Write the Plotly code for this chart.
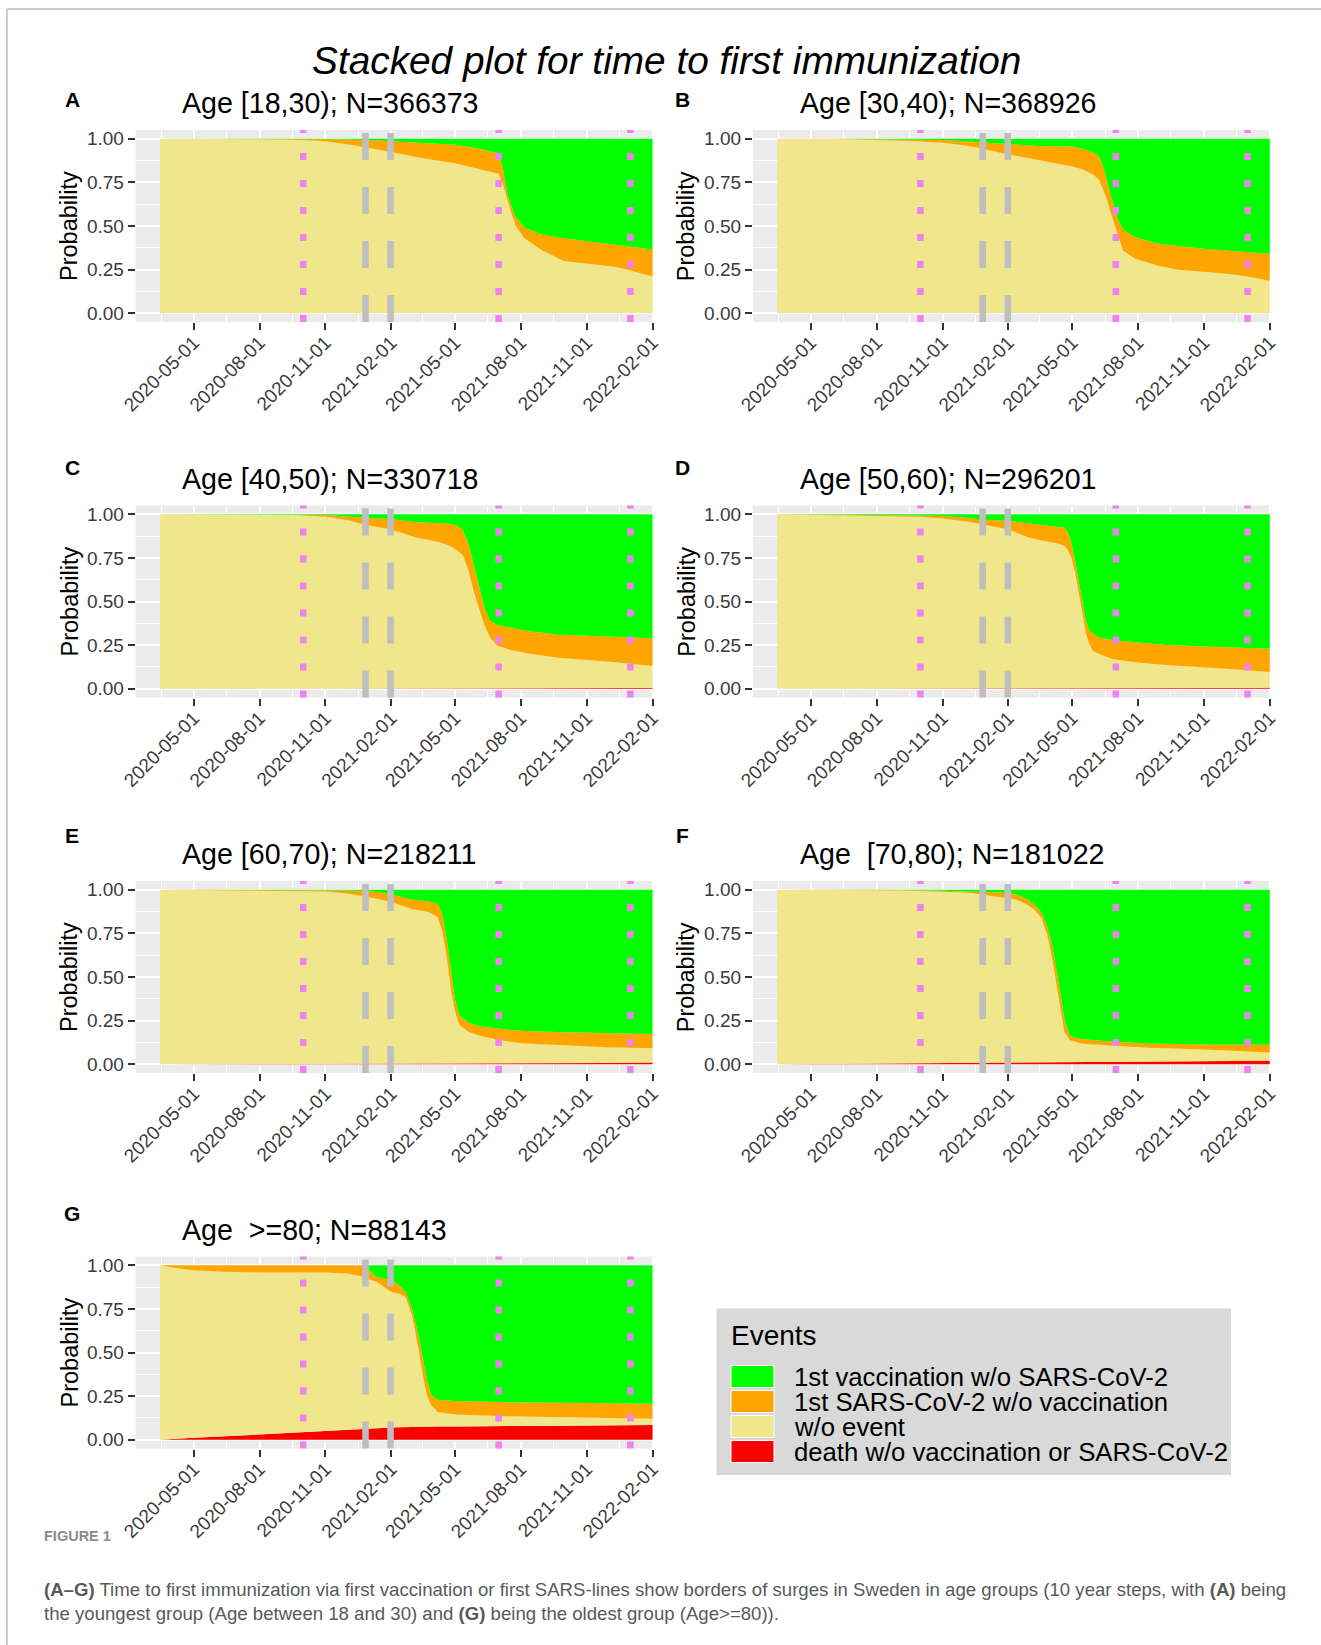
import pandas as pd
import plotly.graph_objects as go

W, H = 1321, 1645
FONT = "Liberation Sans, Arial, sans-serif"

TITLE = "Stacked plot for time to first immunization"
PANEL_LETTERS = ["A", "B", "C", "D", "E", "F", "G"]
PANEL_TITLES = [
    "Age [18,30); N=366373",
    "Age [30,40); N=368926",
    "Age [40,50); N=330718",
    "Age [50,60); N=296201",
    "Age [60,70); N=218211",
    "Age\u00a0 [70,80); N=181022",
    "Age\u00a0 >=80; N=88143",
]
EVENTS = [
    "1st vaccination w/o SARS-CoV-2",
    "1st SARS-CoV-2 w/o vaccination",
    "w/o event",
    "death w/o vaccination or SARS-CoV-2",
]
EVENT_COLORS = ["#00FF00", "#FFA500", "#F0E68C", "#FF0000"]
BREAKS = ["2020-02-01", "2020-05-01", "2020-08-01", "2020-11-01", "2021-02-01",
          "2021-05-01", "2021-08-01", "2021-11-01", "2022-02-01"]
Y_TICKS = [0, 0.25, 0.5, 0.75, 1.0]
Y_MINOR = [0.125, 0.375, 0.625, 0.875]
SURGE_BORDERS = ["2020-10-01", "2021-07-01", "2022-01-01"]
VACC_MARKERS = ["2020-12-27", "2021-01-31"]

# ---- panel A: Age [18,30) (cumulative probabilities: top of each stacked band) ----
A_DATES = ["2020-03-15", "2020-06-01", "2020-09-27", "2020-11-01", "2020-12-01", "2020-12-27",
           "2021-01-15", "2021-02-01", "2021-03-15", "2021-05-01", "2021-06-01", "2021-07-01",
           "2021-07-07", "2021-07-13", "2021-07-19", "2021-07-25", "2021-08-06", "2021-08-31",
           "2021-09-30", "2021-10-30", "2021-12-12", "2022-01-01", "2022-02-01"]
A_DEATH = [0, 0, 0, 0, 0, 0, 0, 0, 0, 0, 0, 0, 0, 0, 0, 0, 0, 0, 0, 0, 0, 0, 0]
A_NOEVENT = [1.0, 0.999, 0.993, 0.985, 0.968, 0.952, 0.937, 0.924, 0.89, 0.86, 0.83, 0.80,
             0.74, 0.65, 0.57, 0.50, 0.43, 0.36, 0.30, 0.285, 0.265, 0.245, 0.21]
A_SARS = [1.0, 1.0, 0.999, 0.997, 0.995, 0.993, 0.99, 0.985, 0.975, 0.965, 0.945, 0.915,
          0.83, 0.69, 0.61, 0.55, 0.49, 0.45, 0.43, 0.415, 0.39, 0.38, 0.365]

# ---- panel B: Age [30,40) ----
B_DATES = ["2020-03-15", "2020-06-01", "2020-09-20", "2020-11-01", "2020-12-01", "2020-12-27",
           "2021-02-01", "2021-03-15", "2021-05-01", "2021-05-15", "2021-05-31", "2021-06-08",
           "2021-06-14", "2021-06-18", "2021-06-23", "2021-06-27", "2021-07-02", "2021-07-06",
           "2021-07-11", "2021-07-28", "2021-08-28", "2021-09-26", "2021-11-01", "2021-12-04",
           "2022-01-01", "2022-02-01"]
B_DEATH = [0, 0, 0, 0, 0, 0, 0, 0, 0, 0, 0, 0, 0, 0, 0, 0, 0, 0, 0, 0, 0, 0, 0, 0, 0, 0]
B_NOEVENT = [1.0, 0.998, 0.987, 0.977, 0.962, 0.943, 0.91, 0.876, 0.841, 0.825, 0.794, 0.76,
             0.704, 0.66, 0.589, 0.54, 0.474, 0.42, 0.36, 0.312, 0.273, 0.249, 0.235, 0.226,
             0.21, 0.187]
B_SARS = [1.0, 1.0, 0.994, 0.992, 0.986, 0.98, 0.97, 0.958, 0.956, 0.943, 0.92, 0.895,
          0.83, 0.76, 0.69, 0.63, 0.56, 0.52, 0.48, 0.435, 0.40, 0.385, 0.369, 0.36,
          0.35, 0.34]

# ---- panel C: Age [40,50) ----
C_DATES = ["2020-03-15", "2020-06-01", "2020-09-17", "2020-11-01", "2020-12-06", "2020-12-26",
           "2021-01-15", "2021-02-01", "2021-03-06", "2021-04-10", "2021-04-27", "2021-05-05",
           "2021-05-12", "2021-05-20", "2021-05-27", "2021-06-04", "2021-06-11", "2021-06-19",
           "2021-06-29", "2021-07-19", "2021-08-13", "2021-09-22", "2021-11-03", "2021-12-16",
           "2022-02-01"]
C_DEATH = [0, 0, 0, 0, 0, 0, 0, 0, 0.001, 0.004, 0.004, 0.004, 0.004, 0.004, 0.004, 0.004,
           0.004, 0.004, 0.004, 0.004, 0.004, 0.004, 0.004, 0.004, 0.005]
C_NOEVENT = [1.0, 0.999, 0.995, 0.987, 0.963, 0.94, 0.925, 0.912, 0.868, 0.84, 0.812, 0.79,
             0.765, 0.678, 0.56, 0.457, 0.366, 0.294, 0.246, 0.221, 0.2, 0.178, 0.165, 0.15,
             0.13]
C_SARS = [1.0, 1.0, 0.999, 0.996, 0.985, 0.978, 0.975, 0.972, 0.955, 0.948, 0.944, 0.931,
          0.91, 0.83, 0.716, 0.58, 0.466, 0.39, 0.365, 0.35, 0.33, 0.309, 0.303, 0.298, 0.29]

# ---- panel D: Age [50,60) ----
D_DATES = ["2020-03-15", "2020-08-01", "2020-09-30", "2020-11-01", "2020-12-09", "2020-12-26",
           "2021-01-13", "2021-02-01", "2021-02-27", "2021-03-19", "2021-04-08", "2021-04-20",
           "2021-04-25", "2021-04-30", "2021-05-05", "2021-05-10", "2021-05-15", "2021-05-20",
           "2021-05-25", "2021-05-30", "2021-06-07", "2021-06-27", "2021-07-31", "2021-09-09",
           "2021-11-01", "2021-12-18", "2022-02-01"]
D_DEATH = [0, 0.002, 0.003, 0.003, 0.004, 0.004, 0.004, 0.004, 0.005, 0.005, 0.005, 0.005,
           0.005, 0.005, 0.005, 0.005, 0.005, 0.005, 0.005, 0.005, 0.005, 0.005, 0.005, 0.005,
           0.005, 0.005, 0.006]
D_NOEVENT = [1.0, 0.99, 0.985, 0.975, 0.956, 0.942, 0.928, 0.912, 0.87, 0.85, 0.835, 0.82,
             0.795, 0.75, 0.668, 0.56, 0.44, 0.32, 0.255, 0.217, 0.2, 0.169, 0.15, 0.136,
             0.125, 0.111, 0.096]
D_SARS = [1.0, 0.997, 0.993, 0.99, 0.979, 0.969, 0.965, 0.962, 0.95, 0.94, 0.931, 0.923,
          0.898, 0.831, 0.735, 0.62, 0.486, 0.39, 0.332, 0.317, 0.294, 0.278, 0.265, 0.251,
          0.242, 0.236, 0.23]

# ---- panel E: Age [60,70) ----
E_DATES = ["2020-03-15", "2020-08-02", "2020-11-01", "2020-12-01", "2020-12-27", "2021-01-12",
           "2021-02-01", "2021-03-02", "2021-03-26", "2021-04-07", "2021-04-13", "2021-04-19",
           "2021-04-25", "2021-05-01", "2021-05-07", "2021-05-20", "2021-06-07", "2021-06-30",
           "2021-07-31", "2021-09-30", "2021-11-29", "2022-02-01"]
E_DEATH = [0, 0.001, 0.003, 0.003, 0.004, 0.005, 0.006, 0.006, 0.006, 0.006, 0.006, 0.006,
           0.006, 0.007, 0.007, 0.007, 0.007, 0.007, 0.007, 0.008, 0.008, 0.01]
E_NOEVENT = [1.0, 0.996, 0.99, 0.98, 0.962, 0.948, 0.929, 0.89, 0.871, 0.842, 0.765, 0.63,
             0.438, 0.304, 0.227, 0.185, 0.16, 0.14, 0.121, 0.108, 0.098, 0.092]
E_SARS = [1.0, 0.999, 0.998, 0.996, 0.992, 0.987, 0.973, 0.944, 0.933, 0.919, 0.862, 0.727,
          0.554, 0.37, 0.28, 0.236, 0.215, 0.204, 0.192, 0.183, 0.177, 0.173]

# ---- panel F: Age [70,80) ----
F_DATES = ["2020-03-15", "2020-06-01", "2020-08-31", "2020-11-01", "2020-12-09", "2020-12-26",
           "2021-02-01", "2021-02-12", "2021-02-27", "2021-03-09", "2021-03-19", "2021-03-27",
           "2021-04-03", "2021-04-10", "2021-04-15", "2021-04-20", "2021-04-28", "2021-05-13",
           "2021-06-27", "2021-08-16", "2021-11-01", "2022-02-01"]
F_DEATH = [0, 0.002, 0.005, 0.007, 0.008, 0.009, 0.011, 0.011, 0.012, 0.012, 0.012, 0.012,
           0.013, 0.013, 0.013, 0.013, 0.013, 0.014, 0.015, 0.016, 0.017, 0.02]
F_NOEVENT = [1.0, 0.999, 0.996, 0.988, 0.983, 0.973, 0.954, 0.944, 0.916, 0.887, 0.839, 0.743,
             0.608, 0.436, 0.301, 0.186, 0.138, 0.119, 0.106, 0.094, 0.084, 0.067]
F_SARS = [1.0, 1.0, 0.999, 0.994, 0.991, 0.988, 0.983, 0.972, 0.945, 0.916, 0.87, 0.79,
          0.68, 0.52, 0.39, 0.26, 0.16, 0.145, 0.129, 0.119, 0.113, 0.112]

# ---- panel G: Age >=80 ----
G_DATES = ["2020-03-15", "2020-04-03", "2020-05-01", "2020-06-14", "2020-08-01", "2020-11-01",
           "2020-12-01", "2020-12-27", "2021-01-01", "2021-01-12", "2021-02-01", "2021-02-12",
           "2021-02-21", "2021-03-02", "2021-03-11", "2021-03-17", "2021-03-23", "2021-03-29",
           "2021-04-07", "2021-05-01", "2021-07-01", "2021-09-30", "2022-02-01"]
G_DEATH = [0.0, 0.006, 0.012, 0.02, 0.031, 0.054, 0.059, 0.063, 0.064, 0.067, 0.071, 0.072,
           0.073, 0.074, 0.074, 0.075, 0.075, 0.075, 0.076, 0.076, 0.079, 0.081, 0.084]
G_NOEVENT = [1.0, 0.985, 0.971, 0.962, 0.958, 0.958, 0.952, 0.933, 0.92, 0.904, 0.847, 0.837,
             0.818, 0.713, 0.522, 0.369, 0.254, 0.197, 0.159, 0.145, 0.136, 0.13, 0.12]
G_SARS = [1.0, 1.0, 1.0, 1.0, 1.0, 1.0, 1.0, 1.0, 0.97, 0.933, 0.914, 0.885, 0.847, 0.751,
          0.598, 0.47, 0.34, 0.255, 0.23, 0.222, 0.216, 0.212, 0.207]

PANELS = [
    (A_DATES, A_DEATH, A_NOEVENT, A_SARS),
    (B_DATES, B_DEATH, B_NOEVENT, B_SARS),
    (C_DATES, C_DEATH, C_NOEVENT, C_SARS),
    (D_DATES, D_DEATH, D_NOEVENT, D_SARS),
    (E_DATES, E_DEATH, E_NOEVENT, E_SARS),
    (F_DATES, F_DEATH, F_NOEVENT, F_SARS),
    (G_DATES, G_DEATH, G_NOEVENT, G_SARS),
]

# ---------------- layout geometry (pixels) ----------------
COL_X = [(135.7, 654.0), (752.9, 1271.2)]
ROW_TOP0, PANEL_H, ROW_STEP = 130.0, 192.0, 375.5
LETTER_Y = [99.7, 467.5, 835.0, 1213.0]
LETTER_X = [72.4, 682.0]
TITLE_X = [180.0, 797.5]


def px(x):
    return x / W


def py(y):
    return 1 - y / H


brk = pd.to_datetime(BREAKS)
minor_x = [(a + (b - a) / 2).strftime("%Y-%m-%d") for a, b in zip(brk[:-1], brk[1:])]

fig = go.Figure()
layout = dict(
    width=W, height=H, autosize=False,
    margin=dict(l=0, r=0, t=0, b=0, pad=0, autoexpand=False),
    paper_bgcolor="white", plot_bgcolor="#EBEBEB",
    showlegend=False, font=dict(family=FONT, color="black"),
)
shapes, annotations = [], []
TICKFONT = dict(size=19, color="#3A3A3A", family=FONT)

for i, (dates, death, noevent, sars) in enumerate(PANELS):
    r, c = divmod(i, 2)
    x0, x1 = COL_X[c]
    top = ROW_TOP0 + r * ROW_STEP
    bot = top + PANEL_H
    xs = "x" if i == 0 else f"x{i+1}"
    ys = "y" if i == 0 else f"y{i+1}"
    xkey = "xaxis" if i == 0 else f"xaxis{i+1}"
    ykey = "yaxis" if i == 0 else f"yaxis{i+1}"

    total = [1.0] * len(dates)
    series = [(death, EVENT_COLORS[3], "tozeroy", EVENTS[3]),
              (noevent, EVENT_COLORS[2], "tonexty", EVENTS[2]),
              (sars, EVENT_COLORS[1], "tonexty", EVENTS[1]),
              (total, EVENT_COLORS[0], "tonexty", EVENTS[0])]
    for yv, col, fill, name in series:
        fig.add_trace(go.Scatter(x=dates, y=yv, mode="lines", fill=fill, fillcolor=col,
                                 line=dict(width=0, color=col), name=name,
                                 xaxis=xs, yaxis=ys, hoverinfo="skip"))

    layout[xkey] = dict(
        domain=[px(x0), px(x1)], anchor=ys, type="date", automargin=False,
        range=["2020-02-10", "2022-02-03"],
        tickmode="array", tickvals=BREAKS, ticktext=BREAKS, tickangle=-45,
        ticklabelstandoff=-6,
        ticks="outside", ticklen=7, tickwidth=2, tickcolor="#333333",
        tickfont=TICKFONT,
        showgrid=True, gridcolor="white", gridwidth=2,
        minor=dict(tickmode="array", tickvals=minor_x, showgrid=True,
                   gridcolor="white", gridwidth=1, ticks=""),
        showline=False, zeroline=False, fixedrange=True,
    )
    layout[ykey] = dict(
        domain=[py(bot), py(top)], anchor=xs, range=[-0.05, 1.05], automargin=False,
        tickmode="array", tickvals=Y_TICKS, tickformat=".2f",
        ticks="outside", ticklen=7, tickwidth=2, tickcolor="#333333",
        tickfont=TICKFONT,
        showgrid=True, gridcolor="white", gridwidth=2,
        minor=dict(tickmode="array", tickvals=Y_MINOR, showgrid=True,
                   gridcolor="white", gridwidth=1, ticks=""),
        showline=False, zeroline=False, fixedrange=True,
    )

    for d in VACC_MARKERS:
        shapes.append(dict(type="line", xref=xs, yref=f"{ys} domain", x0=d, x1=d, y0=0, y1=1,
                           line=dict(color="#BEBEBE", width=6.5, dash="27px,27px")))
    for d in SURGE_BORDERS:
        shapes.append(dict(type="line", xref=xs, yref=f"{ys} domain", x0=d, x1=d, y0=0, y1=1,
                           line=dict(color="#EE82EE", width=6.5, dash="7px,20px")))

    annotations.append(dict(text=f"<b>{PANEL_LETTERS[i]}</b>", x=px(LETTER_X[c]), y=py(LETTER_Y[r]),
                            xref="paper", yref="paper", xanchor="center", yanchor="middle",
                            showarrow=False, font=dict(size=21, family=FONT, color="black")))
    annotations.append(dict(text=PANEL_TITLES[i], x=px(TITLE_X[c]), y=py(top - 27),
                            xref="paper", yref="paper", xanchor="left", yanchor="middle",
                            showarrow=False, font=dict(size=28.6, family=FONT, color="black")))
    annotations.append(dict(text="Probability", x=px(x0 - 66.7), y=py((top + bot) / 2),
                            xref="paper", yref="paper", xanchor="center", yanchor="middle",
                            textangle=-90, showarrow=False,
                            font=dict(size=23.5, family=FONT, color="black")))

# main title
annotations.append(dict(text=f"<i>{TITLE}</i>", x=px(666.5), y=py(60), xref="paper", yref="paper",
                        xanchor="center", yanchor="middle", showarrow=False,
                        font=dict(size=38.8, family=FONT, color="black")))

# legend (drawn manually, ggplot style)
shapes.append(dict(type="rect", xref="paper", yref="paper", x0=px(716.5), x1=px(1231),
                   y0=py(1475), y1=py(1308.5), fillcolor="#D9D9D9", line=dict(width=0),
                   layer="above"))
annotations.append(dict(text="Events", x=px(729), y=py(1335), xref="paper", yref="paper",
                        xanchor="left", yanchor="middle", showarrow=False,
                        font=dict(size=28, family=FONT, color="black")))
KEY_TOP0, KEY_STEP, KEY_H = 1365.5, 25.0, 22.0
for k, (lab, col) in enumerate(zip(EVENTS, EVENT_COLORS)):
    t = KEY_TOP0 + k * KEY_STEP
    shapes.append(dict(type="rect", xref="paper", yref="paper", x0=px(731), x1=px(774),
                       y0=py(t + KEY_H), y1=py(t), fillcolor=col,
                       line=dict(color="white", width=1), layer="above"))
    annotations.append(dict(text=lab, x=px(792), y=py(t + KEY_H / 2), xref="paper", yref="paper",
                            xanchor="left", yanchor="middle", showarrow=False,
                            font=dict(size=25.7, family=FONT, color="black")))

# page frame (top and left border of the figure box)
shapes.append(dict(type="line", xref="paper", yref="paper", x0=px(7), x1=1, y0=py(9), y1=py(9),
                   line=dict(color="#BDBDBD", width=1.5)))
shapes.append(dict(type="line", xref="paper", yref="paper", x0=px(7), x1=px(7), y0=py(9), y1=0,
                   line=dict(color="#BDBDBD", width=1.5)))

# caption
annotations.append(dict(text="<b>FIGURE 1</b>", x=px(42), y=py(1536), xref="paper", yref="paper",
                        xanchor="left", yanchor="middle", showarrow=False,
                        font=dict(size=14.5, family=FONT, color="#8A8B8D")))
CAPTION = [
    "<b>(A\u2013G)</b> Time to first immunization via first vaccination or first SARS-lines show "
    "borders of surges in Sweden in age groups (10 year steps, with <b>(A)</b> being",
    "the youngest group (Age between 18 and 30) and <b>(G)</b> being the oldest group (Age>=80)).",
]
for j, line in enumerate(CAPTION):
    annotations.append(dict(text=line, x=px(42), y=py(1589 + 24 * j), xref="paper", yref="paper",
                            xanchor="left", yanchor="middle", showarrow=False,
                            font=dict(size=18.6, family=FONT, color="#58595B")))

layout["shapes"] = shapes
layout["annotations"] = annotations
fig.update_layout(**layout)
fig.write_html("out.html", config={"displayModeBar": False},
               post_script="document.body.style.margin='0px';document.body.style.overflow='hidden';")
